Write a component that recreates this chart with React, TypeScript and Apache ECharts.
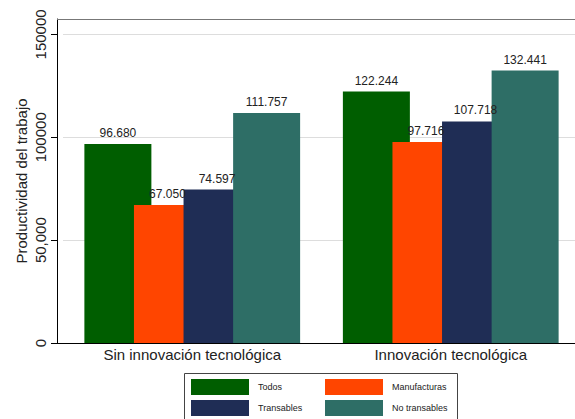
import React, { useEffect, useRef } from "react";
import * as echarts from "echarts";

const categories = ["Sin innovación tecnológica", "Innovación tecnológica"];
const seriesNames = ["Todos", "Manufacturas", "Transables", "No transables"];
const todos = [96680, 122244];
const manufacturas = [67050, 97716];
const transables = [74597, 107718];
const noTransables = [111757, 132441];
const yTicks = [0, 50000, 100000, 150000];
const yTickLabels = ["0", "50,000", "100000", "150000"];
const colors = ["#005E00", "#FF4500", "#1F2D55", "#2E6E66"];

const fmt = (v: number) => String(Math.round(v)).replace(/\B(?=(\d{3})+(?!\d))/g, ".");

export default function App() {
  const ref = useRef<HTMLDivElement>(null);
  useEffect(() => {
    if (!ref.current) return;
    const chart = echarts.init(ref.current, undefined, { renderer: "svg" });
    const values = [todos, manufacturas, transables, noTransables];
    const font = "Liberation Sans, Arial, sans-serif";
    chart.setOption({
      animation: false,
      textStyle: { fontFamily: font },
      grid: { left: 63, width: 517, top: 19, height: 324, containLabel: false },
      xAxis: {
        type: "category",
        data: categories,
        axisLine: { show: true, lineStyle: { color: "#000", width: 1 } },
        axisTick: { show: false },
        axisLabel: { fontSize: 15, color: "#222", margin: 4, fontFamily: font },
      },
      yAxis: {
        type: "value",
        min: 0,
        max: 157500,
        interval: 50000,
        offset: 6,
        name: "Productividad del trabajo",
        nameLocation: "middle",
        nameGap: 28,
        nameMoveOverlap: false,
        nameTextStyle: { fontSize: 15, color: "#222", fontFamily: font },
        axisLine: { show: true, lineStyle: { color: "#000", width: 1 } },
        axisTick: {
          show: true,
          length: 6,
          customValues: yTicks,
          lineStyle: { color: "#000" },
        },
        axisLabel: {
          rotate: 90,
          fontSize: 15,
          color: "#222",
          margin: 9,
          fontFamily: font,
          customValues: yTicks,
          formatter: (v: number) => {
            const i = yTicks.indexOf(v);
            return i >= 0 ? yTickLabels[i] : "";
          },
        },
        splitLine: { show: true, lineStyle: { color: "#DDDDDD", width: 1 } },
      },
      legend: [
        {
          data: [seriesNames[0], seriesNames[2]],
          orient: "vertical",
          left: 191,
          top: 379,
          padding: 0,
          itemWidth: 58,
          itemHeight: 16,
          itemGap: 5,
          icon: "rect",
          textStyle: { fontSize: 9, color: "#222", padding: [0, 0, 0, 4], fontFamily: font },
        },
        {
          data: [seriesNames[1], seriesNames[3]],
          orient: "vertical",
          left: 325,
          top: 379,
          padding: 0,
          itemWidth: 58,
          itemHeight: 16,
          itemGap: 5,
          icon: "rect",
          textStyle: { fontSize: 9, color: "#222", padding: [0, 0, 0, 4], fontFamily: font },
        },
      ],
      graphic: [
        {
          type: "line",
          shape: { x1: 57, y1: 19.5, x2: 600, y2: 19.5 },
          style: { stroke: "#777", lineWidth: 1 },
          z: 10,
        },
        {
          type: "line",
          shape: { x1: 57, y1: 343.5, x2: 64, y2: 343.5 },
          style: { stroke: "#000", lineWidth: 1 },
          z: 10,
        },
        {
          type: "rect",
          shape: { x: 184.5, y: 373.5, width: 273, height: 60 },
          style: { fill: "none", stroke: "#444", lineWidth: 1 },
          z: 10,
        },
      ],
      series: seriesNames.map((name, i) => ({
        name,
        type: "bar",
        data: values[i],
        barWidth: 67,
        barGap: "-26%",
        itemStyle: { color: colors[i] },
        label: {
          show: true,
          position: "top",
          distance: 5,
          fontSize: 12,
          color: "#222",
          fontFamily: font,
          formatter: (p: any) => fmt(p.value),
        },
      })),
    });
    return () => chart.dispose();
  }, []);
  return (
    <div
      ref={ref}
      style={{ position: "fixed", left: 0, top: 0, width: 600, height: 419, background: "#fff" }}
    />
  );
}
